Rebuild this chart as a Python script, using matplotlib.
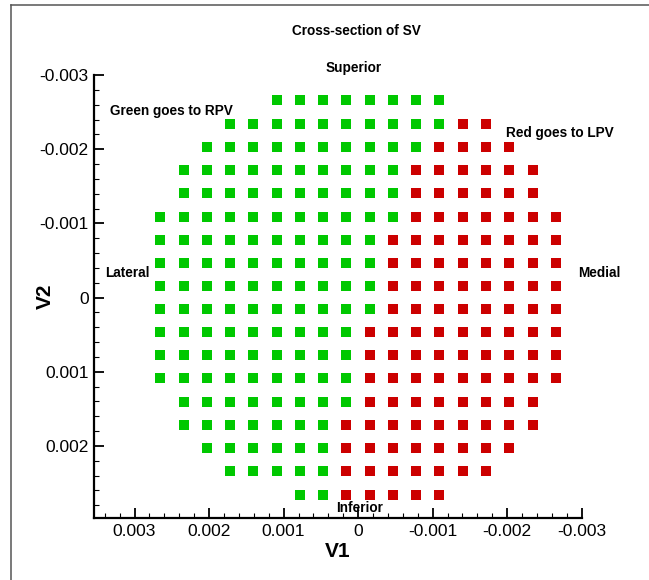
import matplotlib
matplotlib.use("Agg")
import matplotlib.pyplot as plt
from matplotlib.lines import Line2D
from matplotlib.ticker import MultipleLocator

plt.rcParams['font.family'] = ['Liberation Sans', 'DejaVu Sans']

# grid of sample points across the SV cross-section
v1_cols = [0.00266, 0.00234, 0.00203, 0.00172, 0.00141, 0.00109, 0.00078, 0.00047, 0.00016,
           -0.00016, -0.00047, -0.00078, -0.00109, -0.00141, -0.00172, -0.00203, -0.00234, -0.00266]
v2_rows = [-0.00266, -0.00234, -0.00203, -0.00172, -0.00141, -0.00109, -0.00078, -0.00047, -0.00016,
           0.00016, 0.00047, 0.00078, 0.00109, 0.00141, 0.00172, 0.00203, 0.00234, 0.00266]
# G = goes to RPV, R = goes to LPV, . = outside
row_dest = [
    ".....GGGGGGGG.....",
    "...GGGGGGGGGGRR...",
    "..GGGGGGGGGGRRRR..",
    ".GGGGGGGGGGRRRRRR.",
    ".GGGGGGGGGGRRRRRR.",
    "GGGGGGGGGGGRRRRRRR",
    "GGGGGGGGGGRRRRRRRR",
    "GGGGGGGGGGRRRRRRRR",
    "GGGGGGGGGGRRRRRRRR",
    "GGGGGGGGGGRRRRRRRR",
    "GGGGGGGGGRRRRRRRRR",
    "GGGGGGGGGRRRRRRRRR",
    "GGGGGGGGGRRRRRRRRR",
    ".GGGGGGGGRRRRRRRR.",
    ".GGGGGGGRRRRRRRRR.",
    "..GGGGGGRRRRRRRR..",
    "...GGGGGRRRRRRR...",
    "......GGRRRRR.....",
]

green_x, green_y, red_x, red_y = [], [], [], []
for v2, row in zip(v2_rows, row_dest):
    for v1, c in zip(v1_cols, row):
        if c == "G":
            green_x.append(v1)
            green_y.append(v2)
        elif c == "R":
            red_x.append(v1)
            red_y.append(v2)

fig = plt.figure(figsize=(6.49, 5.80), dpi=100)
ax = fig.add_axes([0.1453, 0.1064, 0.751, 0.7643])

ax.scatter(green_x, green_y, s=42, marker="s", color="#00c800", linewidths=0)
ax.scatter(red_x, red_y, s=42, marker="s", color="#cc0000", linewidths=0)

ax.set_xlim(0.00354, -0.003)
ax.set_ylim(0.002975, -0.003)

for side in ["top", "right"]:
    ax.spines[side].set_visible(False)
for side in ["left", "bottom"]:
    ax.spines[side].set_linewidth(1.6)

ax.xaxis.set_major_locator(MultipleLocator(0.001))
ax.xaxis.set_minor_locator(MultipleLocator(0.0002))
ax.yaxis.set_major_locator(MultipleLocator(0.001))
ax.yaxis.set_minor_locator(MultipleLocator(0.0002))
ax.xaxis.set_major_formatter(lambda v, p: "0" if abs(v) < 1e-9 else "%.3f" % v)
ax.yaxis.set_major_formatter(lambda v, p: "0" if abs(v) < 1e-9 else "%.3f" % v)
ax.tick_params(which="major", direction="in", length=7.5, width=1.3, labelsize=12.5, pad=4)
ax.tick_params(which="minor", direction="in", length=3.5, width=0.8)

ax.set_xlabel("V1", fontsize=15, fontweight="bold", labelpad=2)
ax.set_ylabel("V2", fontsize=15, fontweight="bold")
ax.yaxis.set_label_coords(-0.081, 0.5)

fs = 9.8
fig.text(0.5485, 0.9466, "Cross-section of SV", ha="center", va="center", fontsize=fs, fontweight="bold")
ax.text(0.00006, -0.00309, "Superior", ha="center", va="center", fontsize=fs, fontweight="bold")
ax.text(0.00251, -0.00252, "Green goes to RPV", ha="center", va="center", fontsize=fs, fontweight="bold")
ax.text(-0.00271, -0.002215, "Red goes to LPV", ha="center", va="center", fontsize=fs, fontweight="bold")
ax.text(0.0031, -0.00033, "Lateral", ha="center", va="center", fontsize=fs, fontweight="bold")
ax.text(-0.00324, -0.00033, "Medial", ha="center", va="center", fontsize=fs, fontweight="bold")
ax.text(-0.00002, 0.00284, "Inferior", ha="center", va="center", fontsize=fs, fontweight="bold", zorder=5)

# outer frame lines (top and left only)
fig.add_artist(Line2D([10.5 / 649, 10.5 / 649], [0, 1 - 5.3 / 580], color="#555555", linewidth=1.1))
fig.add_artist(Line2D([10.5 / 649, 1], [1 - 5.3 / 580, 1 - 5.3 / 580], color="#555555", linewidth=1.1))

fig.savefig("out.png", dpi=100)
